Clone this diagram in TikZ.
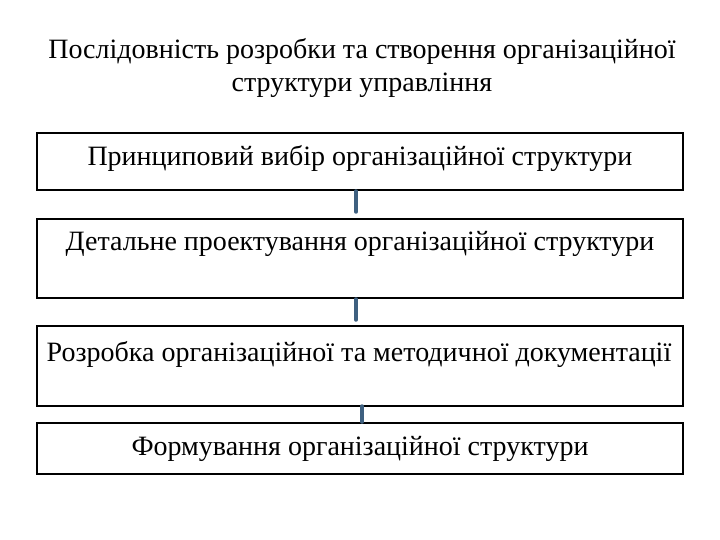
\documentclass[tikz,border=0pt]{standalone}
\usepackage{fontspec}
\setmainfont{Liberation Serif}
\begin{document}
\begin{tikzpicture}[x=1bp,y=-1bp,
  stagebox/.style={draw=black,line width=1.2bp,fill=white},
  stagetext/.style={font=\fontsize{28bp}{32bp}\selectfont,inner sep=0pt,anchor=base},
  linkline/.style={draw={rgb,255:red,62;green,96;blue,128},line width=3.5bp,line cap=round}]
\useasboundingbox (0,0) rectangle (720,540);
\node[align=center,font=\fontsize{28bp}{33bp}\selectfont,inner sep=0pt] (title) at (362,68)
  {Послідовність розробки та створення організаційної\\структури управління};
\draw[stagebox] (37,133) rectangle (683,190);
\draw[stagebox] (37,219) rectangle (683,298);
\draw[stagebox] (37,326) rectangle (683,406);
\draw[stagebox] (37,423) rectangle (683,474);
\node[stagetext] (t1) at (360,166) {Принциповий вибір організаційної структури};
\node[stagetext] (t2) at (360,251) {Детальне проектування організаційної структури};
\node[stagetext] (t3) at (359,361) {Розробка організаційної та методичної документації};
\node[stagetext] (t4) at (360,455) {Формування організаційної структури};
\coordinate (c1a) at (356,191); \coordinate (c1b) at (356,212);
\coordinate (c2a) at (356,299); \coordinate (c2b) at (356,320);
\coordinate (c3a) at (362,406); \coordinate (c3b) at (362,422);
\draw[linkline] (c1a) -- (c1b);
\draw[linkline] (c2a) -- (c2b);
\draw[linkline] (c3a) -- (c3b);
\end{tikzpicture}
\end{document}
